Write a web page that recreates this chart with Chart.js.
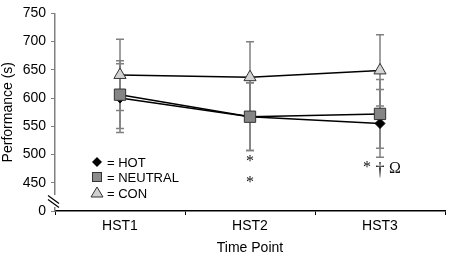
<!DOCTYPE html>
<html><head><meta charset="utf-8">
<script src="https://cdn.jsdelivr.net/npm/chart.js@4/dist/chart.umd.min.js"></script>
<style>html,body{margin:0;padding:0;background:#fff}#wrap{width:454px;height:257px}</style>
</head><body><div id="wrap"><canvas id="c" width="454" height="257"></canvas></div>
<script>
const categories = ['HST1', 'HST2', 'HST3'];
const hotValues = [600, 567, 555];
const neutralValues = [606, 567, 572];
const conValues = [641, 637, 649];
const hotErr = [61, 60, 60];
const neutralErr = [60, 60, 61];
const conErr = [63, 63, 63];
const yTicks = [400, 450, 500, 550, 600, 650, 700, 750];
const yTickLabels = ['0', '450', '500', '550', '600', '650', '700', '750'];
const legendLabels = ['= HOT', '= NEUTRAL', '= CON'];
const sigHST2 = ['*', '*'];
const sigHST3 = ['*', '\u2020', '\u03A9'];

const FONT = 'Liberation Sans, Arial, sans-serif';

const errPlugin = {
  id: 'errbars',
  beforeDatasetsDraw(chart) {
    const ctx = chart.ctx, x = chart.scales.x, y = chart.scales.y;
    ctx.save();
    ctx.strokeStyle = '#808080';
    ctx.lineWidth = 1.5;
    chart.data.datasets.forEach(ds => {
      ds.data.forEach((v, i) => {
        const px = x.getPixelForValue(i);
        const t = y.getPixelForValue(v + ds.err[i]);
        const b = y.getPixelForValue(v - ds.err[i]);
        ctx.beginPath();
        ctx.moveTo(px, t); ctx.lineTo(px, b);
        ctx.moveTo(px - 4, t); ctx.lineTo(px + 4, t);
        ctx.moveTo(px - 4, b); ctx.lineTo(px + 4, b);
        ctx.stroke();
      });
    });
    ctx.restore();
  },
  afterDraw(chart) {
    const ctx = chart.ctx, x = chart.scales.x, y = chart.scales.y;
    const area = chart.chartArea;
    ctx.save();
    // axis break
    ctx.fillStyle = '#fff';
    ctx.fillRect(area.left - 2, 195, 5, 12);
    ctx.strokeStyle = '#000';
    ctx.lineWidth = 1.2;
    ctx.beginPath();
    ctx.moveTo(area.left - 7, 195.5); ctx.lineTo(area.left + 4, 203.5);
    ctx.moveTo(area.left - 7, 199.5); ctx.lineTo(area.left + 4, 207.5);
    ctx.stroke();
    // significance marks
    ctx.fillStyle = '#111';
    ctx.textAlign = 'center';
    ctx.textBaseline = 'middle';
    const x2 = x.getPixelForValue(1), x3 = x.getPixelForValue(2);
    ctx.font = '16px "Liberation Serif", "Times New Roman", serif';
    ctx.fillText(sigHST2[0], x2, 162);
    ctx.fillText(sigHST2[1], x2, 183);
    ctx.fillText(sigHST3[0], x3 - 13, 168);
    ctx.font = '18px "Liberation Serif", "Times New Roman", serif';
    ctx.fillText(sigHST3[1], x3, 170);
    ctx.font = '16px "Liberation Serif", "Times New Roman", serif';
    ctx.fillText(sigHST3[2], x3 + 15, 169);
    // legend
    const lx = 97, ly = [162, 177, 193];
    ctx.fillStyle = '#000';
    ctx.beginPath();
    ctx.moveTo(lx, ly[0] - 5); ctx.lineTo(lx + 5, ly[0]); ctx.lineTo(lx, ly[0] + 5); ctx.lineTo(lx - 5, ly[0]); ctx.closePath();
    ctx.fill();
    ctx.fillStyle = '#8c8c8c'; ctx.strokeStyle = '#333'; ctx.lineWidth = 1;
    ctx.fillRect(lx - 4.5, ly[1] - 4.5, 9, 9);
    ctx.strokeRect(lx - 4.5, ly[1] - 4.5, 9, 9);
    ctx.fillStyle = '#d0d0d0';
    ctx.beginPath();
    ctx.moveTo(lx, ly[2] - 6); ctx.lineTo(lx + 6, ly[2] + 4); ctx.lineTo(lx - 6, ly[2] + 4); ctx.closePath();
    ctx.fill(); ctx.stroke();
    ctx.fillStyle = '#000';
    ctx.font = '13px ' + FONT;
    ctx.textAlign = 'left';
    legendLabels.forEach((t, i) => ctx.fillText(t, 107, ly[i] + 1));
    ctx.restore();
  }
};

new Chart(document.getElementById('c'), {
  type: 'line',
  data: {
    labels: categories,
    datasets: [
      { label: 'CON', data: conValues, err: conErr, borderColor: '#000', borderWidth: 1.5,
        pointStyle: 'triangle', pointRadius: 7, pointBackgroundColor: '#d3d3d3', pointBorderColor: '#333', pointBorderWidth: 1, order: 3 },
      { label: 'HOT', data: hotValues, err: hotErr, borderColor: '#000', borderWidth: 1.5,
        pointStyle: 'rectRot', pointRadius: 5, pointBackgroundColor: '#000', pointBorderColor: '#000', pointBorderWidth: 1, order: 2 },
      { label: 'NEUTRAL', data: neutralValues, err: neutralErr, borderColor: '#000', borderWidth: 1.5,
        pointStyle: 'rect', pointRadius: 8, pointBackgroundColor: '#858585', pointBorderColor: '#333', pointBorderWidth: 1, order: 1 }
    ]
  },
  options: {
    responsive: false,
    animation: false,
    layout: { padding: { top: 8, right: 3, left: 0, bottom: 0 } },
    plugins: { legend: { display: false }, tooltip: { enabled: false } },
    scales: {
      x: {
        offset: true,
        grid: { drawOnChartArea: false, offset: true, tickLength: 4, color: '#000', lineWidth: 1 },
        border: { color: '#000', width: 1.5 },
        ticks: { color: '#000', font: { family: FONT, size: 14 }, padding: 3 },
        title: { display: true, text: 'Time Point', color: '#000', font: { family: FONT, size: 14 }, padding: { top: 1, bottom: 0 } },
        afterFit(s) { s.height = 46; }
      },
      y: {
        min: 400, max: 750,
        afterBuildTicks(s) { s.ticks = yTicks.map(v => ({ value: v })); },
        grid: { drawOnChartArea: false, tickLength: 4, color: '#808080', lineWidth: 1 },
        border: { color: '#808080', width: 1.5 },
        ticks: { color: '#000', font: { family: FONT, size: 14 }, padding: 5,
          callback: (v) => yTickLabels[yTicks.indexOf(v)] },
        title: { display: true, text: 'Performance (s)', color: '#000', font: { family: FONT, size: 14 }, padding: { top: 0, bottom: 0 } },
        afterFit(s) { s.width = 55; }
      }
    }
  },
  plugins: [errPlugin]
});
</script></body></html>
